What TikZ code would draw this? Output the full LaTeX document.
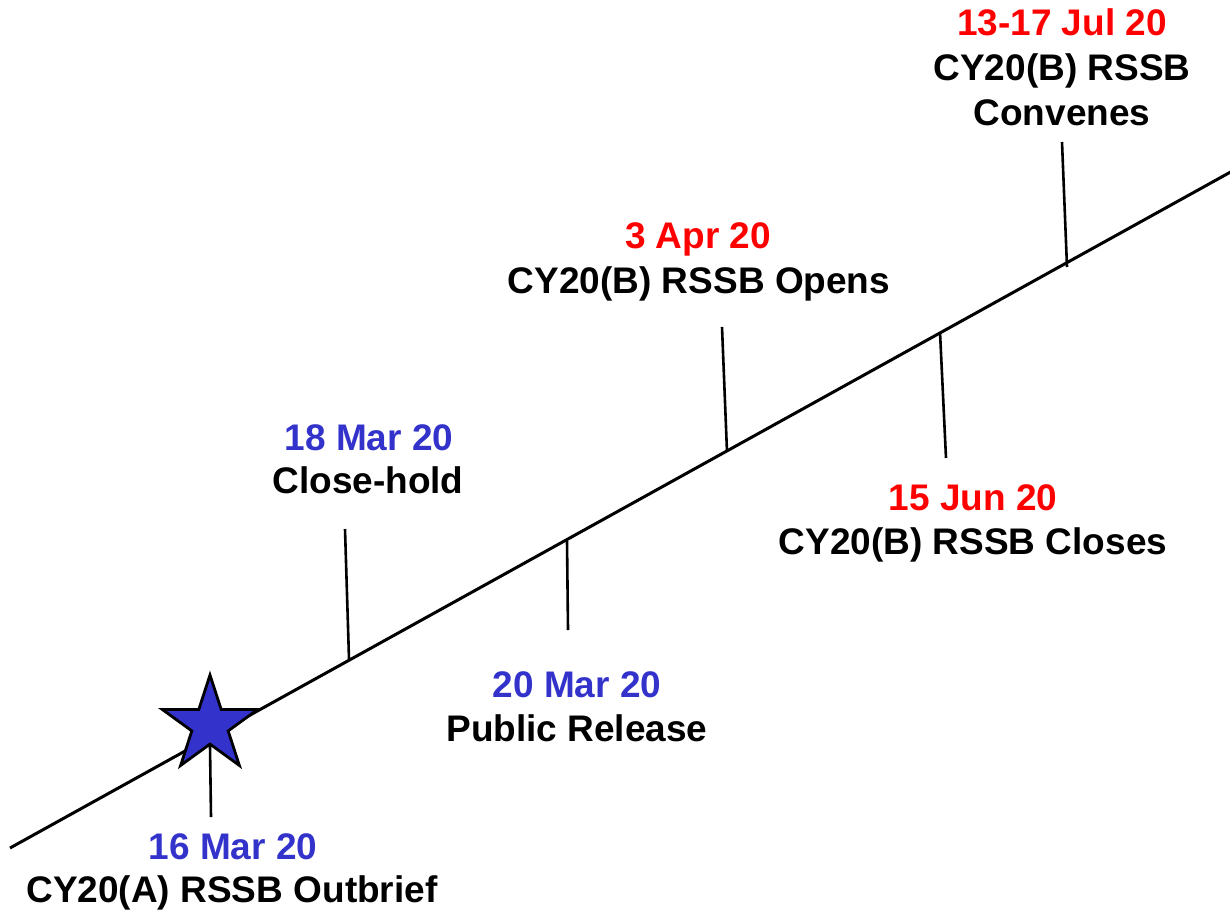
\documentclass[tikz,border=0pt]{standalone}
\usepackage{fontspec}
\setmainfont{Liberation Sans}
\usetikzlibrary{shapes.geometric}
\definecolor{dblue}{RGB}{51,51,204}
\definecolor{dred}{RGB}{255,0,0}
\begin{document}
\begin{tikzpicture}[x=1pt,y=-1pt,
  lbl/.style={anchor=base,inner sep=0pt,font=\fontsize{37}{44}\selectfont\bfseries},
  datered/.style={lbl,text=dred},
  dateblue/.style={lbl,text=dblue},
  evt/.style={lbl,text=black},
  tick/.style={line width=2.6pt,black},
  axis/.style={line width=3pt,black}]
\useasboundingbox (0,0) rectangle (1230,911);
% timeline
\coordinate (L0) at (10,848);
\coordinate (L1) at (1236,169);
\draw[axis] (L0) -- (L1);
% tick end points
\coordinate (c1t) at (345,529); \coordinate (c1b) at (349,659);
\coordinate (c2t) at (567,541); \coordinate (c2b) at (568,630);
\coordinate (c3t) at (722,327); \coordinate (c3b) at (727,452);
\coordinate (c4t) at (940,332); \coordinate (c4b) at (946,458);
\coordinate (c5t) at (1062,142); \coordinate (c5b) at (1067,267);
\coordinate (c0b) at (211,817);
\draw[tick] (c1t) -- (c1b);
\draw[tick] (c2t) -- (c2b);
\draw[tick] (c3t) -- (c3b);
\draw[tick] (c4t) -- (c4b);
\draw[tick] (c5t) -- (c5b);
% star
\node[star,star points=5,star point ratio=2.618,minimum size=100pt,inner sep=0pt,
      draw=black,line width=2.8pt,fill=dblue] (st) at (210,725) {};
\draw[tick] (st.south) -- (c0b);
% labels
\node[datered] (d5) at (1062,35) {13-17 Jul 20};
\node[evt] (e5a) at (1062,80) {CY20(B) RSSB};
\node[evt] (e5b) at (1062,125) {Convenes};
\node[datered] (d3) at (698,248) {3 Apr 20};
\node[evt] (e3) at (699,293) {CY20(B) RSSB Opens};
\node[dateblue] (d1) at (369,450) {18 Mar 20};
\node[evt] (e1) at (368,493) {Close-hold};
\node[datered] (d4) at (973,510) {15 Jun 20};
\node[evt] (e4) at (973,554) {CY20(B) RSSB Closes};
\node[dateblue] (d2) at (577,697) {20 Mar 20};
\node[evt] (e2) at (577,741) {Public Release};
\node[dateblue] (d0) at (233,859) {16 Mar 20};
\node[evt] (e0) at (232,902) {CY20(A) RSSB Outbrief};
\end{tikzpicture}
\end{document}
